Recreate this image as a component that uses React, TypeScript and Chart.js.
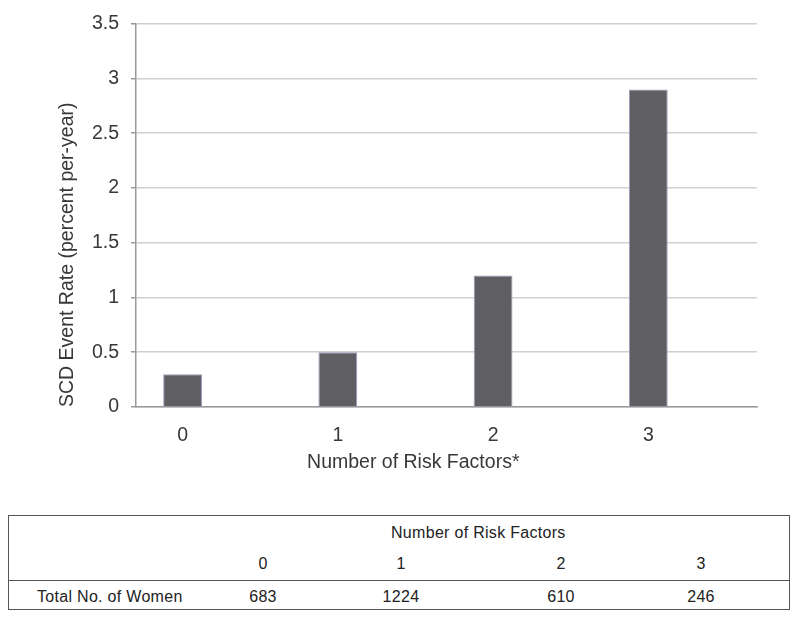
import React, { useEffect, useRef } from "react";
import { Chart, registerables } from "chart.js";

Chart.register(...registerables);

const categories = ["0", "1", "2", "3"];
const eventRates = [0.3, 0.5, 1.2, 2.9];
const xMin = -0.3;
const xMax = 3.7;
const yMin = 0;
const yMax = 3.5;
const yStep = 0.5;
const yTitle = "SCD Event Rate (percent per-year)";
const xTitle = "Number of Risk Factors*";

const tableHeader = "Number of Risk Factors";
const tableColumns = ["0", "1", "2", "3"];
const tableRowLabel = "Total No. of Women";
const womenCounts = [683, 1224, 610, 246];

const FONT = "'Liberation Sans', Arial, sans-serif";
const colCenters = [262, 400, 560, 700];

const xTitlePlugin = {
  id: "xTitleOffset",
  afterDraw(chart: any) {
    const { ctx, chartArea } = chart;
    ctx.save();
    ctx.font = `19.5px ${FONT}`;
    ctx.fillStyle = "#383838";
    ctx.textAlign = "center";
    ctx.textBaseline = "middle";
    ctx.fillText(xTitle, chartArea.left + chartArea.width * 0.4465, chartArea.bottom + 56);
    ctx.restore();
  },
};

function ChartCanvas() {
  const ref = useRef<HTMLCanvasElement | null>(null);
  useEffect(() => {
    if (!ref.current) return;
    const chart = new Chart(ref.current, {
      type: "bar",
      data: {
        datasets: [
          {
            data: eventRates.map((y, i) => ({ x: i, y })),
            backgroundColor: "#5f5f63",
            borderColor: "#9a9ac0",
            borderWidth: 1,
            barPercentage: 0.25,
            categoryPercentage: 1,
          },
        ],
      },
      options: {
        animation: false,
        responsive: false,
        devicePixelRatio: 1,
        layout: { padding: { top: 18, right: 43, left: 0, bottom: 0 } },
        plugins: { legend: { display: false }, tooltip: { enabled: false } },
        scales: {
          x: {
            type: "linear",
            min: xMin,
            max: xMax,
            offset: false,
            grid: { display: false, drawTicks: false },
            border: { display: true, color: "#9a9a9a", width: 1.5 },
            afterBuildTicks: (scale: any) => {
              scale.ticks = categories.map((_, i) => ({ value: i }));
            },
            ticks: {
              padding: 17,
              color: "#383838",
              font: { family: FONT, size: 19.5 },
              callback: (value: any) => categories[Number(value)] ?? "",
            },
            afterFit: (scale: any) => {
              scale.height = 73;
            },
          },
          y: {
            min: yMin,
            max: yMax,
            ticks: {
              stepSize: yStep,
              padding: 12,
              color: "#383838",
              font: { family: FONT, size: 19.5 },
              callback: (value: any) => String(Number(value)),
            },
            grid: { color: "#d0d0d0", lineWidth: 1.5, tickLength: 5, tickColor: "#9a9a9a" },
            border: { display: true, color: "#9a9a9a", width: 1.5 },
            title: {
              display: true,
              text: yTitle,
              align: "start",
              color: "#383838",
              font: { family: FONT, size: 19.5 },
              padding: { top: 56, bottom: 0 },
            },
            afterFit: (scale: any) => {
              scale.width = 136;
            },
          },
        },
      },
      plugins: [xTitlePlugin],
    } as any);
    return () => chart.destroy();
  }, []);
  return <canvas ref={ref} width={800} height={480} style={{ width: 800, height: 480, display: "block" }} />;
}

const cellText: React.CSSProperties = {
  position: "absolute",
  transform: "translate(-50%, -50%)",
  whiteSpace: "nowrap",
};

export default function App() {
  return (
    <div
      style={{
        position: "absolute",
        left: 0,
        top: 0,
        width: 800,
        height: 619,
        background: "#ffffff",
        fontFamily: FONT,
        color: "#222222",
      }}
    >
      <ChartCanvas />
      <div
        style={{
          position: "absolute",
          left: 8,
          top: 515,
          width: 780,
          height: 93,
          border: "1.5px solid #555555",
          fontSize: 16,
          letterSpacing: 0.3,
        }}
      >
        <div style={{ ...cellText, left: 390 - 8, top: 532 - 515, transform: "translate(0, -50%)" }}>{tableHeader}</div>
        {tableColumns.map((c, i) => (
          <div key={"h" + i} style={{ ...cellText, left: colCenters[i] - 8, top: 563 - 515 }}>
            {c}
          </div>
        ))}
        <div
          style={{
            position: "absolute",
            left: 0,
            right: 0,
            top: 579 - 515,
            height: 0,
            borderTop: "1.5px solid #555555",
          }}
        />
        <div style={{ ...cellText, left: 36 - 8, top: 596 - 515, transform: "translate(0, -50%)" }}>{tableRowLabel}</div>
        {womenCounts.map((v, i) => (
          <div key={"v" + i} style={{ ...cellText, left: colCenters[i] - 8, top: 596 - 515 }}>
            {v}
          </div>
        ))}
      </div>
    </div>
  );
}
